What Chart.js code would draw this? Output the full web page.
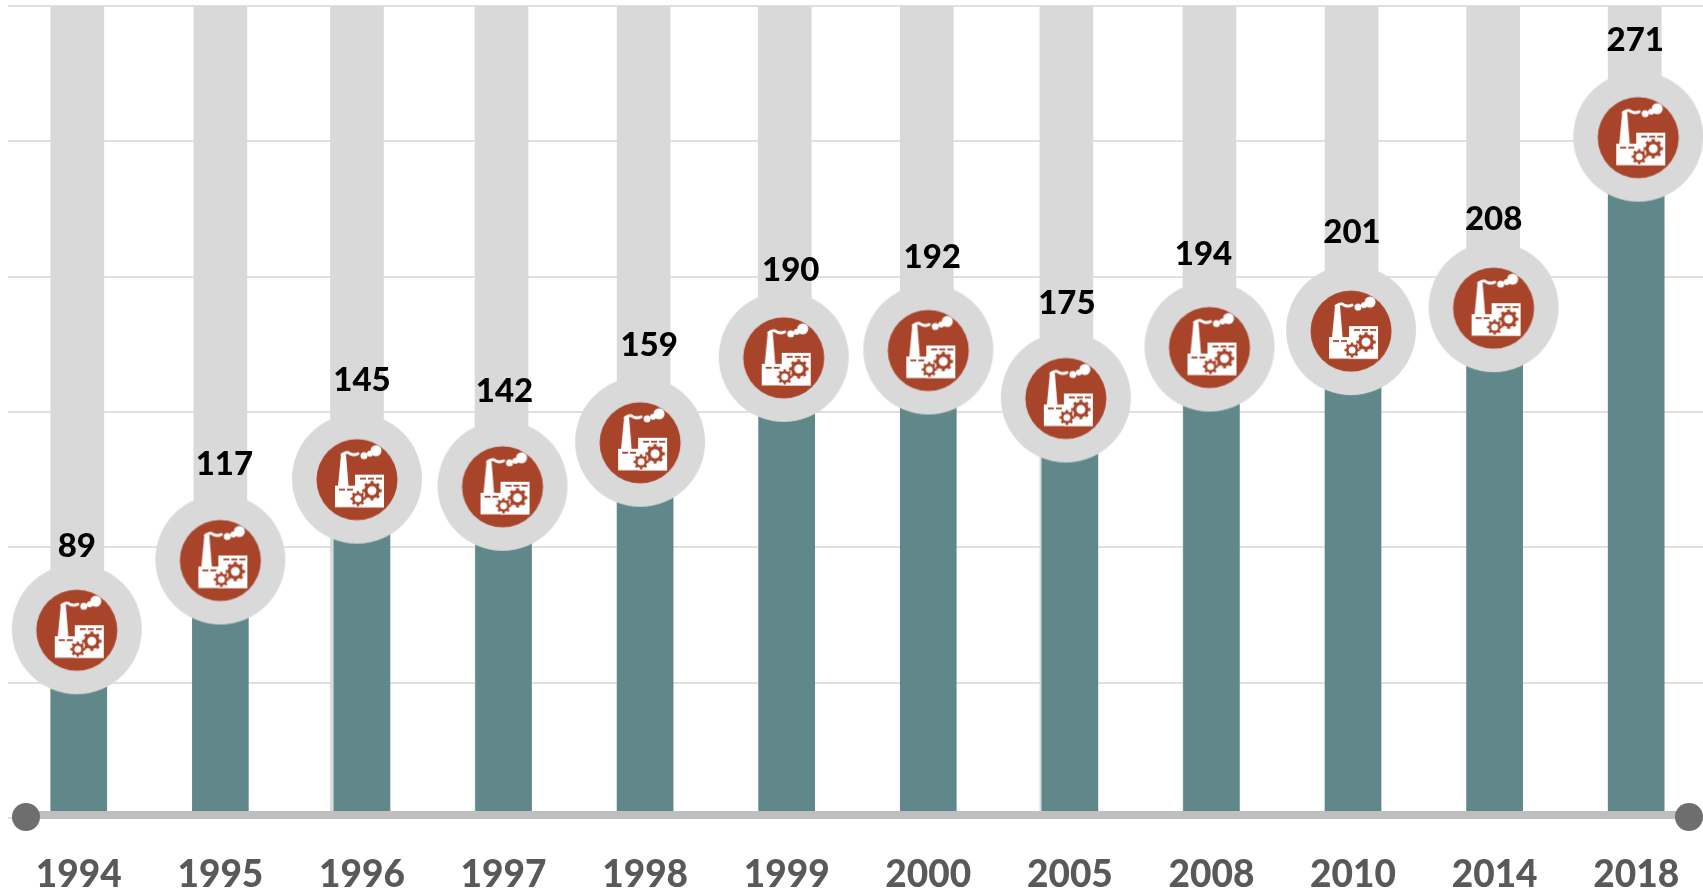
<!DOCTYPE html>
<html>
<head>
<meta charset="utf-8">
<style>
html,body{margin:0;padding:0;background:#fff;width:1703px;height:890px;overflow:hidden}
canvas{position:absolute;left:0;top:0}
</style>
<script src="https://cdn.jsdelivr.net/npm/chart.js@4"></script>
</head>
<body>
<canvas id="c" width="1708" height="890"></canvas>
<script>
const categories = ['1994','1995','1996','1997','1998','1999','2000','2005','2008','2010','2014','2018'];
const values = [89,117,145,142,159,190,192,175,194,201,208,271];
const trackValues = [320,320,320,320,320,320,320,320,320,320,320,320];

// The reference's markers, tracks and labels are hand-placed a few px off the grid.
const trackShiftX = [-1.5,0,-5,-2,-1.5,-2,-1.5,-3.5,-2,-1.5,-1.5,-1.5];
const markerShiftX = [-2,0,-5,-1,-5,-3,0,-4,-2,-2,-1,2];
const markerShiftY = [-2,4,-1,-2,0,-1,-3,-1,-.5,2,-2,-2];
const labelShiftX = [-2,4,0,1,4,4,4,-3,-8,-1,-1,-1];
const labelShiftY = [-85,-91,-99,-96,-96,-88,-95,-95.5,-93,-96,-90,-98.6];

const C = {teal:'#60888a', track:'#d9d9d9', grid:'#e0e0e0', axis:'#bfbfbf', dot:'#6e6e6e', red:'#a8442a', tick:'#595959'};
const FONT = 'Lato, Carlito, sans-serif';

function gear(g, x, y, r, teeth){
  g.save();
  g.translate(x,y);
  g.strokeStyle = C.red; g.fillStyle = C.red; g.lineCap='butt';
  g.beginPath(); g.arc(0,0,r*.68,0,Math.PI*2); g.lineWidth = r*.36; g.stroke();
  for(let i=0;i<teeth;i++){
    g.rotate(Math.PI*2/teeth);
    g.fillRect(-r*.17, -r*1.08, r*.34, r*.36);
  }
  g.restore();
}
function buildMarker(){
  const s = 132, k = document.createElement('canvas');
  k.width = s; k.height = s;
  const g = k.getContext('2d');
  g.translate(s/2,s/2);
  g.fillStyle = C.track; g.beginPath(); g.arc(0,0,65,0,Math.PI*2); g.fill();
  g.fillStyle = C.red; g.beginPath(); g.arc(0,1,40.5,0,Math.PI*2); g.fill();
  g.filter = 'blur(0.5px)';
  g.fillStyle = '#fff';
  // building
  g.fillRect(-22,7,49,21.5);
  g.fillRect(-2,-4,29,32.5);
  // chimney
  g.beginPath(); g.moveTo(-16,-24); g.lineTo(-11,-24); g.lineTo(-8.5,7); g.lineTo(-19,7); g.closePath(); g.fill();
  // smoke
  g.strokeStyle = '#fff'; g.lineWidth = 3; g.lineCap='round';
  g.beginPath(); g.moveTo(-15,-24); g.quadraticCurveTo(-10,-28,-7,-25); g.quadraticCurveTo(-3,-23,1,-25); g.stroke();
  g.beginPath(); g.arc(7,-23,3.5,0,Math.PI*2); g.fill();
  g.beginPath(); g.arc(19,-28,5.5,0,Math.PI*2); g.fill();
  g.beginPath(); g.arc(13,-25,3,0,Math.PI*2); g.fill();
  // window dashes
  g.fillStyle = C.red;
  [[3,-1],[11,-1],[19,-1],[-18,10],[-10,10]].forEach(p=>g.fillRect(p[0],p[1],6,1.8));
  gear(g,15,12,9,8);
  gear(g,1,20,7,8);
  return k;
}
const markerIcon = buildMarker();

const nudgePlugin = {
  id:'nudge',
  afterDatasetsUpdate(chart){
    chart.getDatasetMeta(0).data.forEach((el,i)=>{ el.x += trackShiftX[i]; });
    chart.getDatasetMeta(2).data.forEach((el,i)=>{ el.x += markerShiftX[i]; el.y += markerShiftY[i]; });
  }
};
const axisPlugin = {
  id:'axisBar',
  afterDatasetsDraw(chart){
    const g = chart.ctx;
    const y = chart.scales.y.getPixelForValue(20) - 3;
    const x0 = 26, x1 = 1689;
    g.save();
    g.fillStyle = C.axis;
    g.fillRect(x0, y-4, x1-x0, 8);
    g.fillStyle = C.dot;
    [x0,x1].forEach(x=>{ g.beginPath(); g.arc(x,y+2,14,0,Math.PI*2); g.fill(); });
    g.restore();
  }
};
const labelPlugin = {
  id:'valueLabels',
  afterDraw(chart){
    const g = chart.ctx, xs = chart.scales.x, ys = chart.scales.y;
    g.save();
    g.fillStyle = '#000';
    g.font = '900 33px ' + FONT;
    g.textAlign = 'center'; g.textBaseline = 'middle';
    values.forEach((v,i)=>{
      g.fillText(String(v), xs.getPixelForValue(i)+labelShiftX[i], ys.getPixelForValue(v)+labelShiftY[i]);
    });
    g.restore();
  }
};

new Chart(document.getElementById('c'),{
  data:{
    labels:categories,
    datasets:[
      {type:'bar',label:'track',data:trackValues,backgroundColor:C.track,barThickness:53,grouped:false,order:3},
      {type:'bar',label:'value',data:values,backgroundColor:C.teal,barThickness:56,grouped:false,order:2},
      {type:'line',label:'marker',data:values,showLine:false,pointStyle:markerIcon,pointRadius:1,pointBorderWidth:0,pointHoverRadius:1,clip:false,order:1}
    ]
  },
  options:{
    responsive:false,
    animation:false,
    events:[],
    layout:{padding:{left:8,top:6,right:0,bottom:0}},
    plugins:{legend:{display:false},tooltip:{enabled:false},title:{display:false}},
    scales:{
      x:{
        grid:{display:false},
        border:{display:false},
        afterFit(s){ s.height = 72; },
        ticks:{color:C.tick,font:{family:FONT,weight:'900',size:37},padding:27,maxRotation:0,autoSkip:false}
      },
      y:{
        min:20,max:320,
        afterFit(s){ s.width = 0; },
        border:{display:false},
        grid:{color:C.grid,lineWidth:2,drawTicks:false},
        ticks:{display:false,stepSize:50}
      }
    }
  },
  plugins:[nudgePlugin,axisPlugin,labelPlugin]
});
</script>
</body>
</html>
